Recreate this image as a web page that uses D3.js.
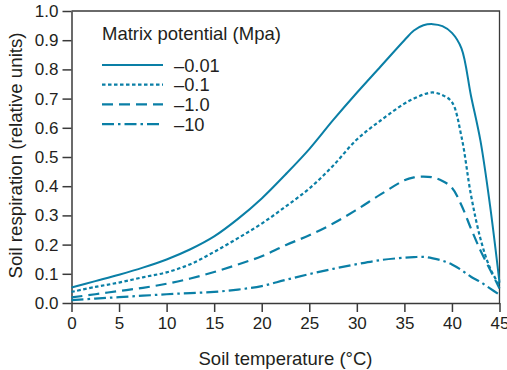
<!DOCTYPE html>
<html>
<head>
<meta charset="utf-8">
<script src="https://cdn.jsdelivr.net/npm/d3@7"></script>
<style>
  body { margin: 0; background: #fff; }
  svg text { font-family: "Liberation Sans", Arial, Helvetica, sans-serif; fill: #231f20; }
</style>
</head>
<body>
<div id="chart"></div>
<script>
// soil temperature (°C)
const temps = [0, 2.5, 5, 7.5, 10, 12.5, 15, 17.5, 20, 22.5, 25, 27.5, 30, 32.5, 35, 36, 37, 38, 39, 40, 41, 42, 43, 44, 45];

// soil respiration (relative units) per matrix potential
const resp001 = [0.053, 0.075, 0.097, 0.121, 0.149, 0.184, 0.228, 0.288, 0.358, 0.44, 0.527, 0.626, 0.72, 0.81, 0.9, 0.933, 0.951, 0.955, 0.948, 0.925, 0.872, 0.71, 0.555, 0.335, 0.07];
const resp01 = [0.038, 0.055, 0.07, 0.088, 0.105, 0.133, 0.175, 0.222, 0.272, 0.33, 0.392, 0.47, 0.56, 0.625, 0.683, 0.70, 0.714, 0.721, 0.712, 0.688, 0.57, 0.37, 0.22, 0.12, 0.06];
const resp1 = [0.019, 0.03, 0.041, 0.052, 0.066, 0.084, 0.106, 0.132, 0.16, 0.198, 0.232, 0.272, 0.32, 0.372, 0.42, 0.43, 0.433, 0.43, 0.418, 0.395, 0.335, 0.255, 0.18, 0.115, 0.05];
const resp10 = [0.01, 0.015, 0.02, 0.025, 0.03, 0.034, 0.038, 0.046, 0.058, 0.079, 0.099, 0.117, 0.133, 0.147, 0.155, 0.157, 0.158, 0.153, 0.145, 0.132, 0.113, 0.09, 0.072, 0.05, 0.028];

const seriesLabels = ['\u20130.01', '\u20130.1', '\u20131.0', '\u201310'];
const seriesValues = [resp001, resp01, resp1, resp10];
const xTicks = [0, 5, 10, 15, 20, 25, 30, 35, 40, 45];
const yTicks = [0, 0.1, 0.2, 0.3, 0.4, 0.5, 0.6, 0.7, 0.8, 0.9, 1.0];

const width = 507, height = 370;
const margin = { top: 11, right: 7.5, bottom: 67, left: 71.5 };
const color = '#0a7fa6';
const dashes = [null, '3.5,2.5', '11,6', '12,4,2.5,4'];

const svg = d3.select('#chart')
  .append('svg')
  .attr('width', width)
  .attr('height', height);

const x = d3.scaleLinear()
  .domain([0, 45])
  .range([margin.left, width - margin.right]);

const y = d3.scaleLinear()
  .domain([0, 1])
  .range([height - margin.bottom, margin.top]);

// frame on top and right
svg.append('path')
  .attr('d', `M${x(0)},${y(1)}H${x(45)}V${y(0)}`)
  .attr('fill', 'none')
  .attr('stroke', '#3a3a3a')
  .attr('stroke-width', 1.3);

// X-axis
const xAxis = svg.append('g')
  .attr('transform', `translate(0,${y(0)})`)
  .call(d3.axisBottom(x).tickValues(xTicks).tickSize(9).tickPadding(5).tickSizeOuter(0));
xAxis.selectAll('text').style('font-size', '17px');

// Y-axis
const yAxis = svg.append('g')
  .attr('transform', `translate(${x(0)},0)`)
  .call(d3.axisLeft(y).tickValues(yTicks).tickFormat(d3.format('.1f')).tickSize(9).tickPadding(4).tickSizeOuter(0));
yAxis.selectAll('text').style('font-size', '17px');

svg.selectAll('.domain, .tick line').attr('stroke', '#3a3a3a').attr('stroke-width', 1.5);

// axis labels
svg.append('text')
  .attr('x', 285.5)
  .attr('y', 364.5)
  .style('text-anchor', 'middle')
  .style('font-size', '18.5px')
  .text('Soil temperature (\u00b0C)');

svg.append('text')
  .attr('transform', 'rotate(-90)')
  .attr('x', -155.5)
  .attr('y', 21.5)
  .style('text-anchor', 'middle')
  .style('font-size', '18.7px')
  .text('Soil respiration (relative units)');

// curves
const line = d3.line()
  .x((d, i) => x(temps[i]))
  .y(d => y(d))
  .curve(d3.curveCatmullRom.alpha(0.5));

seriesValues.forEach((vals, i) => {
  svg.append('path')
    .datum(vals)
    .attr('d', line)
    .attr('fill', 'none')
    .attr('stroke', color)
    .attr('stroke-width', i === 0 ? 2 : 2.2)
    .attr('stroke-dasharray', dashes[i]);
});

// legend
const legend = svg.append('g').attr('transform', 'translate(102,0)');
legend.append('text')
  .attr('x', 0)
  .attr('y', 40)
  .style('font-size', '18.5px')
  .text('Matrix potential (Mpa)');

seriesLabels.forEach((lab, i) => {
  const ly = 65 + i * 19.7;
  legend.append('line')
    .attr('x1', 0).attr('x2', 61)
    .attr('y1', ly).attr('y2', ly)
    .attr('stroke', color)
    .attr('stroke-width', i === 0 ? 2 : 2.2)
    .attr('stroke-dasharray', dashes[i]);
  legend.append('text')
    .attr('x', 72)
    .attr('y', ly + 6.5)
    .style('font-size', '18.3px')
    .text(lab);
});
</script>
</body>
</html>
